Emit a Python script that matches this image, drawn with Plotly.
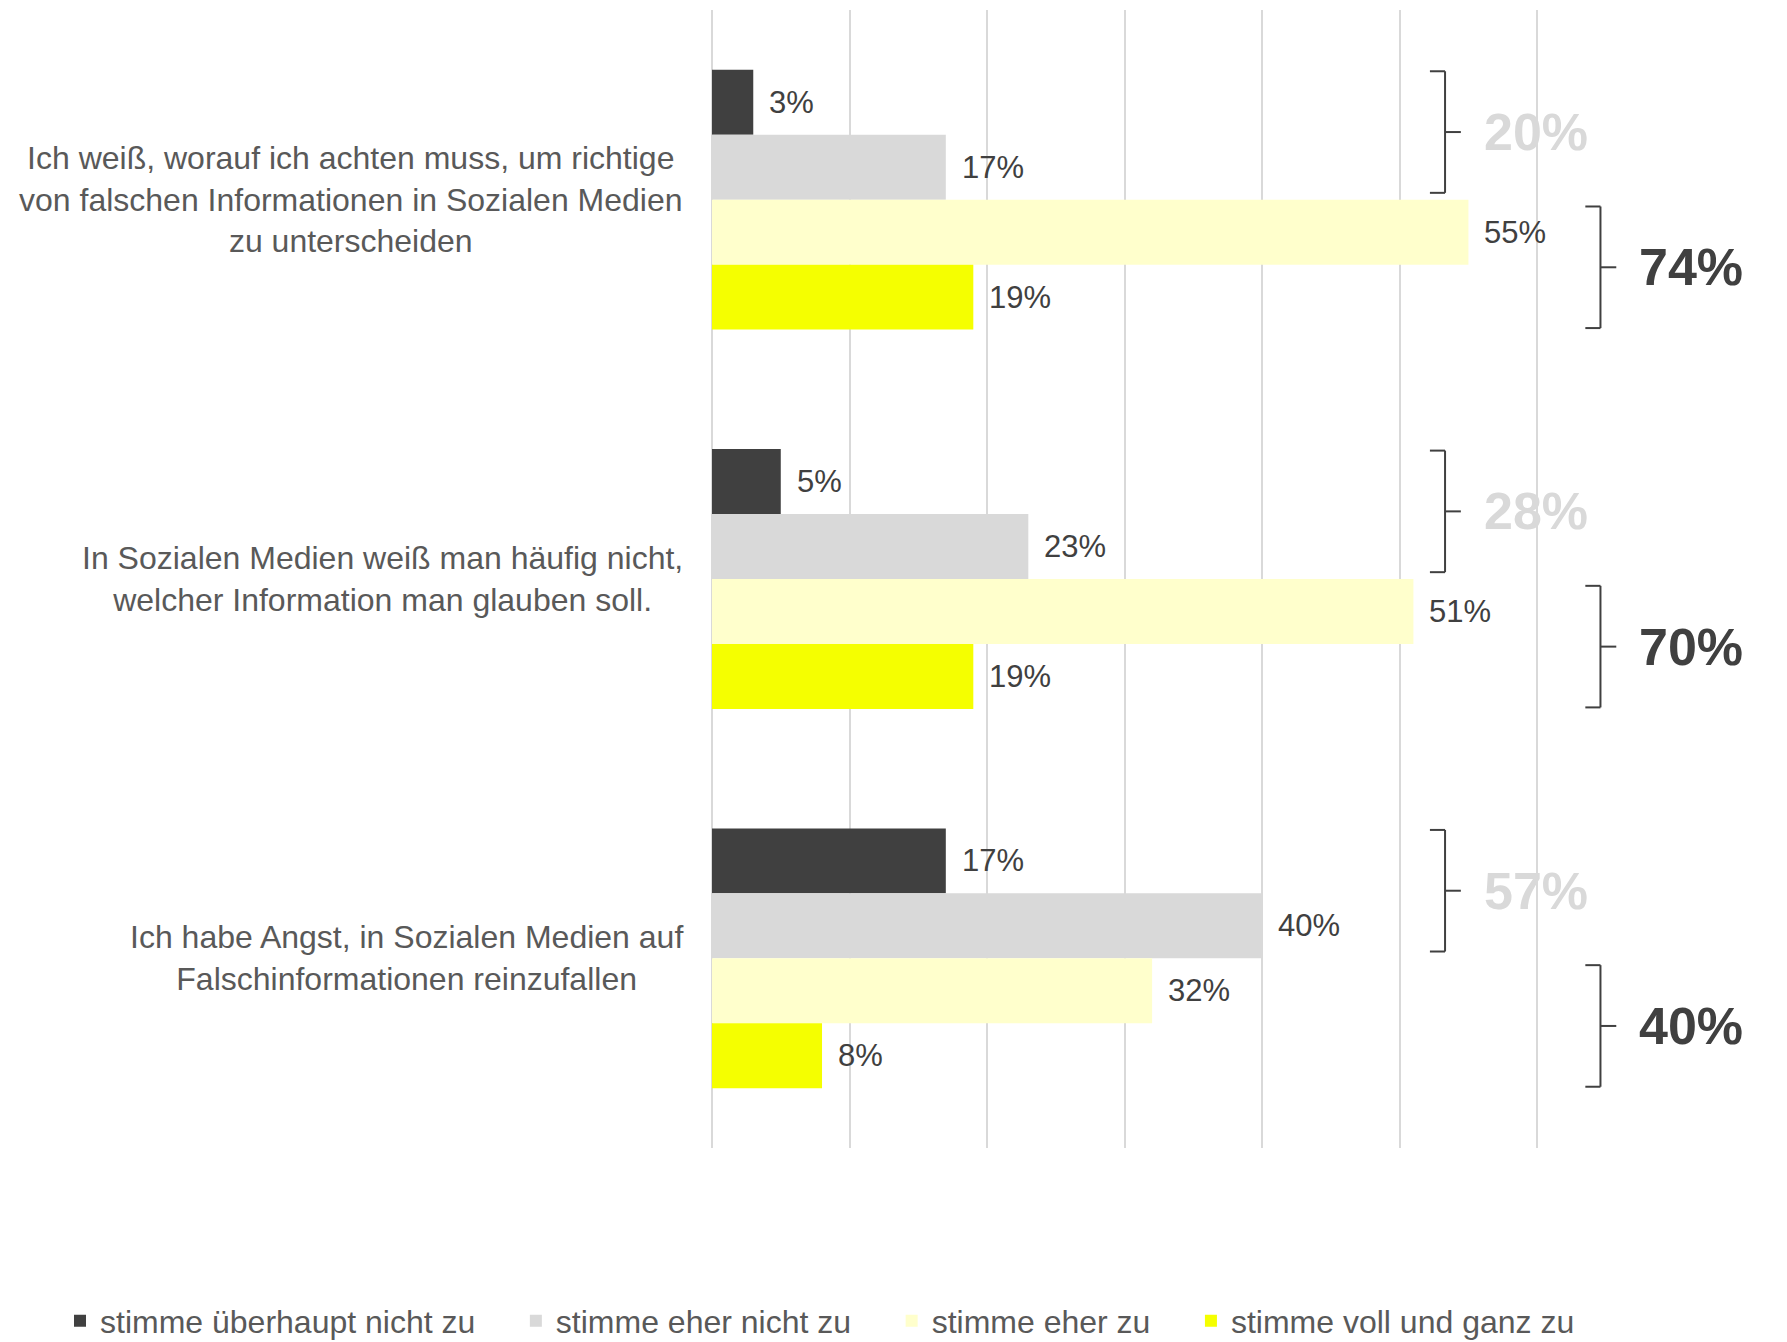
import plotly.graph_objects as go

# ---- data ----
categories = [
    "Ich weiß, worauf ich achten muss, um richtige<br>von falschen Informationen in Sozialen Medien<br>zu unterscheiden",
    "In Sozialen Medien weiß man häufig nicht,<br>welcher Information man glauben soll.",
    "Ich habe Angst, in Sozialen Medien auf<br>Falschinformationen reinzufallen",
]
series_names = [
    "stimme überhaupt nicht zu",
    "stimme eher nicht zu",
    "stimme eher zu",
    "stimme voll und ganz zu",
]
values_ueberhaupt_nicht = [3, 5, 17]
values_eher_nicht = [17, 23, 40]
values_eher = [55, 51, 32]
values_voll = [19, 19, 8]
series_values = [values_ueberhaupt_nicht, values_eher_nicht, values_eher, values_voll]
grid_ticks = [0, 10, 20, 30, 40, 50, 60]

# ---- styles ----
colors = ["#404040", "#d9d9d9", "#ffffcc", "#f5ff00"]
FONT = "Liberation Sans, Arial, sans-serif"
BARGAP = 0.315
n_series = len(series_names)
bar_w = (1 - BARGAP) / n_series
LEGEND_PAD = "\u00a0" * 4

fig = go.Figure()
ypos = list(range(len(categories)))
for k, (name, vals, col) in enumerate(zip(series_names, series_values, colors)):
    fig.add_trace(go.Bar(
        name=name + (LEGEND_PAD if k < n_series - 1 else ""), x=vals, y=ypos, orientation="h",
        marker=dict(color=col, line=dict(width=0)),
        hoverinfo="skip",
    ))

annotations = []
shapes = []
# data labels
for j, vals in enumerate(series_values):
    for i, v in enumerate(vals):
        annotations.append(dict(
            x=v, y=i + (j - (n_series - 1) / 2) * bar_w, xref="x", yref="y",
            text=f"{v}%", showarrow=False, xanchor="left", yanchor="middle",
            xshift=14, font=dict(family=FONT, size=31, color="#404040"),
        ))
# category labels
for i, c in enumerate(categories):
    annotations.append(dict(
        x=0, y=i, xref="x", yref="y", text=c, showarrow=False,
        xanchor="right", yanchor="middle", align="center", xshift=-27,
        font=dict(family=FONT, size=32, color="#595959"),
    ))

# brackets with sums
def bracket(y0, y1, xv, xl, xm, total, color):
    for (xa, ya, xb, yb) in [(xv, y0, xv, y1), (xl, y0, xv, y0), (xl, y1, xv, y1),
                             (xv, (y0 + y1) / 2, xm, (y0 + y1) / 2)]:
        shapes.append(dict(type="line", xref="x", yref="y", x0=xa, y0=ya, x1=xb, y1=yb,
                           line=dict(color="#404040", width=2)))
    annotations.append(dict(
        x=xm, y=(y0 + y1) / 2, xref="x", yref="y", text=f"<b>{total}%</b>",
        showarrow=False, xanchor="left", yanchor="middle", xshift=21,
        font=dict(family=FONT, size=52, color=color),
    ))

half = (1 - BARGAP) / 2
for i in range(len(categories)):
    disagree = values_ueberhaupt_nicht[i] + values_eher_nicht[i]
    agree = values_eher[i] + values_voll[i]
    bracket(i - half + 0.004, i - 0.018, 53.3, 52.2, 54.45, disagree, "#d9d9d9")
    bracket(i + 0.018, i + half - 0.004, 64.6, 63.5, 65.75, agree, "#404040")

W, H = 1787, 1342
ML, MR = 16, 16
plot_left = 712
fig.update_layout(
    width=W, height=H,
    margin=dict(l=ML, r=MR, t=10, b=194),
    paper_bgcolor="white", plot_bgcolor="white",
    barmode="group", bargap=BARGAP, bargroupgap=0,
    showlegend=True,
    legend=dict(orientation="h", xref="container", yref="container",
                x=60 / W, xanchor="left", y=21 / H, yanchor="middle",
                font=dict(family=FONT, size=32, color="#595959"),
                traceorder="normal"),
    xaxis=dict(domain=[(plot_left - ML) / (W - ML - MR), 1],
               range=[0, 77], tickvals=grid_ticks, showticklabels=False,
               showgrid=True, gridcolor="#d9d9d9", gridwidth=2,
               zeroline=True, zerolinecolor="#d9d9d9", zerolinewidth=2,
               showline=False, fixedrange=True),
    yaxis=dict(range=[len(categories) - 0.5, -0.5], showticklabels=False,
               showgrid=False, zeroline=False, showline=False, fixedrange=True),
    annotations=annotations, shapes=shapes,
)

fig.write_html("out.html", config={"displayModeBar": False})
